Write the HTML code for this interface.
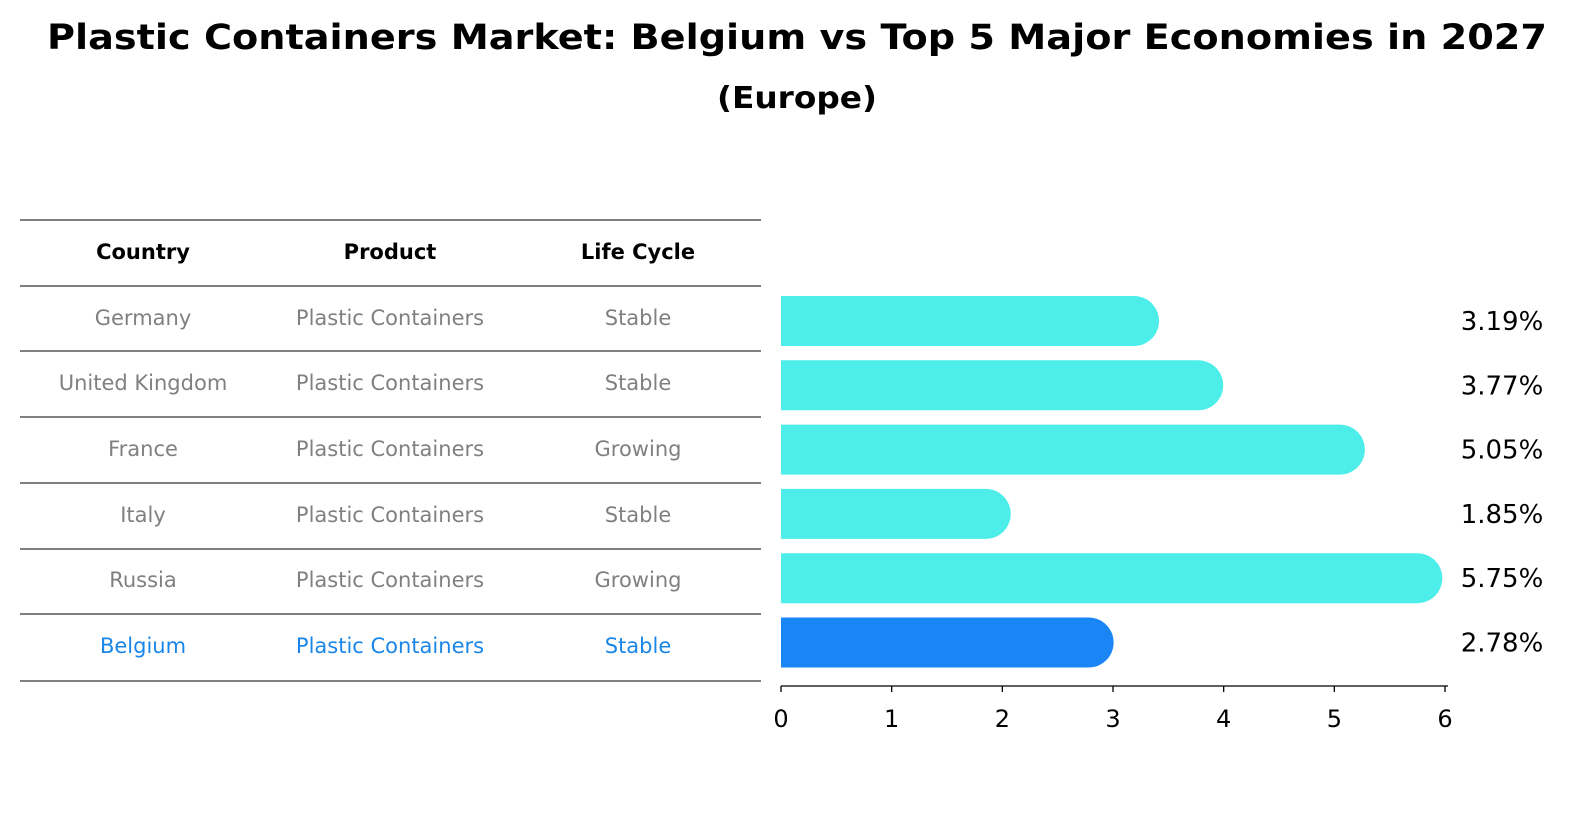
<!DOCTYPE html>
<html><head><meta charset="utf-8"><style>
html,body{margin:0;padding:0;background:#fff;width:1589px;height:823px;overflow:hidden;font-family:"DejaVu Sans","Liberation Sans",sans-serif;}
svg{display:block;}
</style></head><body>
<svg width="1589" height="823" viewBox="0 0 1589 823" xmlns="http://www.w3.org/2000/svg">
<text x="797" y="49" text-anchor="middle" font-size="35" font-weight="bold" textLength="1500" lengthAdjust="spacingAndGlyphs">Plastic Containers Market: Belgium vs Top 5 Major Economies in 2027</text>
<text x="797" y="108" text-anchor="middle" font-size="30" font-weight="bold" textLength="160" lengthAdjust="spacingAndGlyphs">(Europe)</text>
<g id="table"></g>
<g id="bars"></g>
<g id="axis"></g>
</svg>
<script>
const countries=["Germany","United Kingdom","France","Italy","Russia","Belgium"];
const products=["Plastic Containers","Plastic Containers","Plastic Containers","Plastic Containers","Plastic Containers","Plastic Containers"];
const lifeCycles=["Stable","Stable","Growing","Stable","Growing","Stable"];
const values=[3.19,3.77,5.05,1.85,5.75,2.78];
const ticks=[0,1,2,3,4,5,6];
const NS="http://www.w3.org/2000/svg";
function mk(t,a,p){const e=document.createElementNS(NS,t);for(const k in a)e.setAttribute(k,a[k]);p.appendChild(e);return e;}
const xS=v=>781+v*(664/6);
const rowY=i=>321+i*64.3;
const tbl=document.getElementById('table');
const lines=[220,286,351,417,483,549,614,681];
lines.forEach(y=>{const l=mk('line',{x1:20,x2:761,y1:y,y2:y,stroke:'#000','stroke-width':1},tbl);

});
const cols=[143,390,638];
["Country","Product","Life Cycle"].forEach((h,j)=>{const t=mk('text',{x:cols[j],y:259,'text-anchor':'middle','font-size':21,'font-weight':'bold'},tbl);t.textContent=h;

});
const tRows=[318,383,449,515,580,646];
countries.forEach((c,i)=>{const col=i===5?'#1a86e8':'#808080';
[c,products[i],lifeCycles[i]].forEach((v,j)=>{const t=mk('text',{x:cols[j],y:tRows[i]+7,'text-anchor':'middle','font-size':21,fill:col},tbl);t.textContent=v;

});});
const bars=document.getElementById('bars');
values.forEach((v,i)=>{const y=rowY(i);const col=i===5?'#1a86f5':'#4deeea';
const b=mk('path',{d:`M${xS(0)},${y-25} L${xS(v)},${y-25} A25,25 0 0 1 ${xS(v)},${y+25} L${xS(0)},${y+25} Z`,fill:col},bars);


const t=mk('text',{x:1502,y:y+9,'text-anchor':'middle','font-size':26},bars);t.textContent=v.toFixed(2)+'%';

});
const ax=document.getElementById('axis');
mk('line',{x1:781,x2:1448,y1:686,y2:686,stroke:'#000','stroke-width':1.3},ax);
ticks.forEach(t=>{mk('line',{x1:xS(t),x2:xS(t),y1:686,y2:692,stroke:'#000','stroke-width':1.3},ax);
const l=mk('text',{x:xS(t),y:727,'text-anchor':'middle','font-size':24},ax);l.textContent=t;

});
</script>
</body></html>
